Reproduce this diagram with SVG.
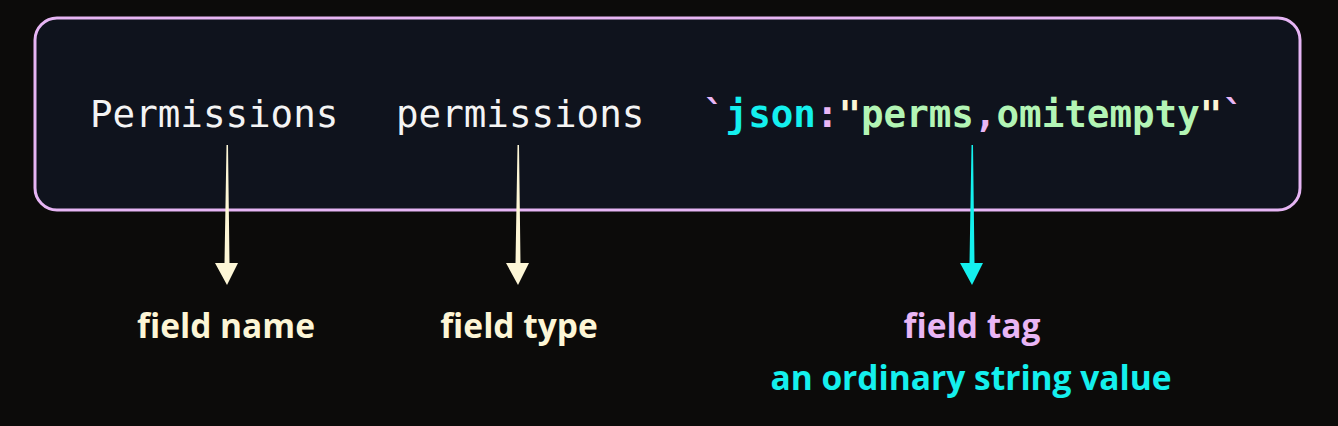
<svg xmlns="http://www.w3.org/2000/svg" width="1338" height="426" viewBox="0 0 1338 426">
<defs>
<style>
.code{font-family:"DejaVu Sans Mono","Liberation Mono",monospace;font-size:37.5px;}
.b{font-weight:bold;}
.lbl{font-family:"Open Sans","Noto Sans",sans-serif;font-weight:bold;font-size:33.5px;text-anchor:middle;font-variant-ligatures:none;}
.cream{fill:#fdf6d6;}
.pink{fill:#e9b6f5;}
.cyan{fill:#14f0ee;}
.green{fill:#b3f5b5;}
.white{fill:#f4f4f4;}
</style>
</defs>
<rect width="1338" height="426" fill="#0c0b0a"/>
<g id="code-box">
<rect x="35" y="18" width="1265" height="192" rx="22" fill="#0f131d" stroke="#e6b5f4" stroke-width="3"/>
<text class="code white" x="90" y="127">Permissions</text>
<text class="code white" x="396" y="127">permissions</text>
<text class="code b" x="703" y="127" xml:space="preserve"><tspan class="pink">`</tspan><tspan class="cyan">json</tspan><tspan class="pink">:</tspan><tspan class="cream">"</tspan><tspan class="green">perms</tspan><tspan class="pink">,</tspan><tspan class="green">omitempty</tspan><tspan class="cream">"</tspan><tspan class="pink">`</tspan></text>
</g>
<g id="connectors">
<path class="cream" d="M226.5 145 L228 145 L229.5 263 L238 263 L227 285 L215 263 L224.5 263 Z"/>
<path class="cream" d="M517.5 145 L519 145 L520.5 263 L529 263 L518 285 L506 263 L515.5 263 Z"/>
<path class="cyan" d="M971.5 145 L973 145 L974.5 263 L983 263 L972 285 L960 263 L969.5 263 Z"/>
</g>
<g id="label-name"><text class="lbl cream" x="226" y="338">field name</text></g>
<g id="label-type"><text class="lbl cream" x="519" y="338">field type</text></g>
<g id="label-tag"><text class="lbl pink" x="972" y="338">field tag</text>
<text class="lbl cyan" x="971" y="390">an ordinary string value</text></g>
</svg>
